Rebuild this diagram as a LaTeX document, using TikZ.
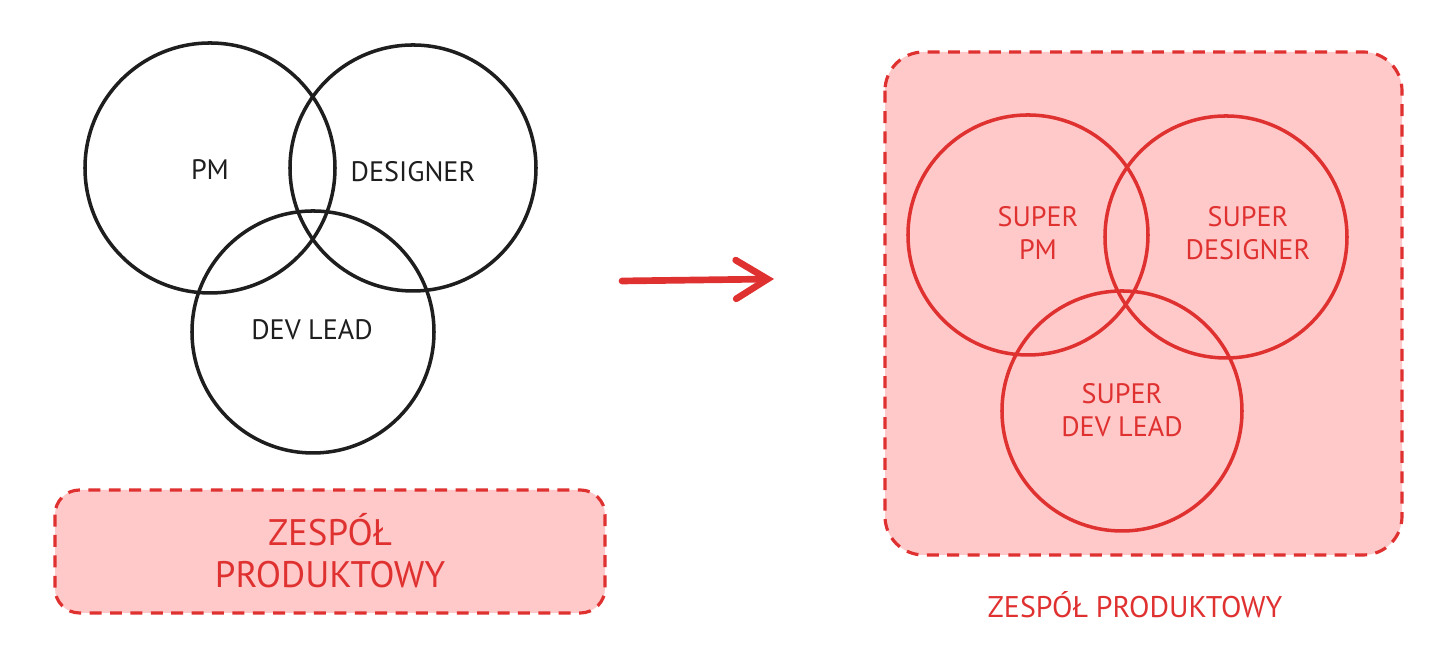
\documentclass[tikz,border=0pt]{standalone}
\usepackage{fontspec}
\setmainfont{PT Sans}
\usetikzlibrary{arrows.meta}
\definecolor{teamred}{HTML}{E03131}
\definecolor{teampink}{HTML}{FFC9C9}
\definecolor{inkblack}{HTML}{1E1E1E}
\begin{document}
\begin{tikzpicture}[x=0.01cm, y=-0.01cm,
    ring/.style={line width=1pt},
    teambox/.style={draw=teamred, fill=teampink, line width=0.9pt, dash pattern=on 3.4pt off 2.4pt},
    lbl/.style={font=\fontsize{8}{9.4}\selectfont, align=center, inner sep=0pt}]
        \useasboundingbox[fill=white] (0, 0) rectangle (1456, 662);

        \draw[ring, inkblack] (210, 168) circle (125);
        \draw[ring, inkblack] (413, 168) circle (123);
        \draw[ring, inkblack] (313, 332) circle (121);
        \node[lbl, inkblack] (pm) at (210, 170) {PM};
        \node[lbl, inkblack] (designer) at (413, 172) {DESIGNER};
        \node[lbl, inkblack] (devlead) at (312, 330) {DEV LEAD};

        \draw[teambox, rounded corners=7pt] (55, 490) rectangle (605, 613);
        \node[lbl, teamred, font=\fontsize{10.5}{12}\selectfont] (team) at (330, 551) {ZESPÓŁ\\PRODUKTOWY};

        \coordinate (from) at (622, 281);
        \coordinate (to) at (774, 279);
        \draw[-{Straight Barb[length=9pt, width=11pt, line cap=round]}, teamred, line width=1.9pt, line cap=round] (from) -- (to);

        \draw[teambox, rounded corners=11pt] (885, 52) rectangle (1402, 555);
        \draw[ring, teamred] (1028, 235) circle (120);
        \draw[ring, teamred] (1226, 237) circle (121);
        \draw[ring, teamred] (1122, 411) circle (120);
        \node[lbl, teamred] (superpm) at (1038, 233) {SUPER\\PM};
        \node[lbl, teamred] (superdesigner) at (1248, 233) {SUPER\\DESIGNER};
        \node[lbl, teamred] (superdevlead) at (1122, 410) {SUPER\\DEV LEAD};
        \node[lbl, teamred, font=\fontsize{8.5}{10}\selectfont] (teamcaption) at (1135, 605) {ZESPÓŁ PRODUKTOWY};
    \end{tikzpicture}
\end{document}
